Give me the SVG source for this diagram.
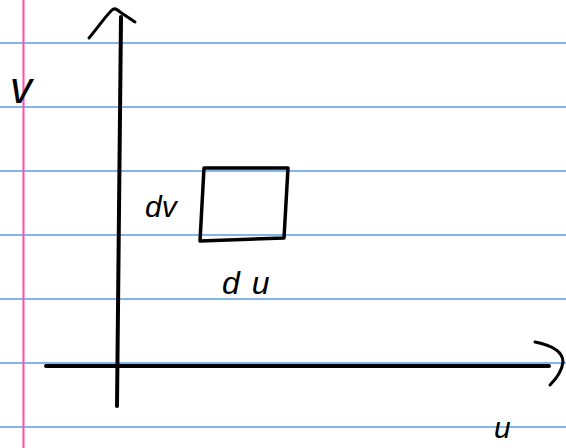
<svg xmlns="http://www.w3.org/2000/svg" width="566" height="448" viewBox="0 0 566 448">
  <style>
    .rule { stroke: #5a9be6; stroke-width: 1.5; }
    .margin { stroke: #ff4fae; stroke-width: 2; }
    .ink { fill: none; stroke: #000; stroke-linecap: round; stroke-linejoin: round; }
    .axis { stroke-width: 4; }
    .head { stroke-width: 3; }
    .box { stroke-width: 3.5; }
    .lbl { font-family: "Liberation Sans", "DejaVu Sans", sans-serif; font-style: italic; fill: #000; }
  </style>
  <rect width="566" height="448" fill="#fff"/>
  <g id="paper">
    <line class="rule" x1="0" y1="43" x2="566" y2="43"/>
    <line class="rule" x1="0" y1="107" x2="566" y2="107"/>
    <line class="rule" x1="0" y1="171" x2="566" y2="171"/>
    <line class="rule" x1="0" y1="235" x2="566" y2="235"/>
    <line class="rule" x1="0" y1="299" x2="566" y2="299"/>
    <line class="rule" x1="0" y1="363" x2="566" y2="363"/>
    <line class="rule" x1="0" y1="427" x2="566" y2="427"/>
    <line class="margin" x1="23.5" y1="0" x2="23.5" y2="448"/>
  </g>
  <g id="connectors">
    <g id="v-axis">
      <line class="ink axis" x1="121" y1="17" x2="117" y2="406"/>
      <path class="ink head" d="M89,38 C96,30 104,18 112,10 C114,8 117,9 120,12 L135,22"/>
    </g>
    <g id="u-axis">
      <line class="ink axis" x1="46" y1="366" x2="549" y2="366"/>
      <path class="ink head" d="M535,342 C550,345 563,351 563,362 C562,371 556,379 550,385"/>
    </g>
  </g>
  <g id="box">
    <path class="ink box" d="M204,168 L288,168 L284,238 L200,241 Z"/>
  </g>
  <g id="label-v">
    <text class="lbl" x="10" y="103" font-size="44">v</text>
  </g>
  <g id="label-dv">
    <text class="lbl" x="145" y="217" font-size="30">dv</text>
  </g>
  <g id="label-du">
    <text class="lbl" x="222" y="294" font-size="32" letter-spacing="12">du</text>
  </g>
  <g id="label-u">
    <text class="lbl" x="494" y="438" font-size="30">u</text>
  </g>
</svg>
